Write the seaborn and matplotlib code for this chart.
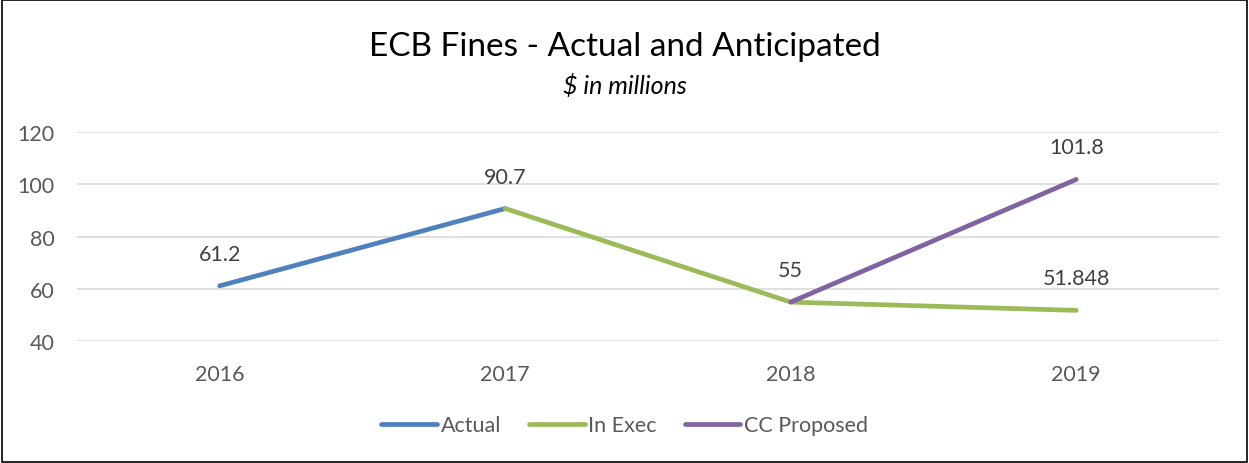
import matplotlib
matplotlib.use("Agg")
import matplotlib.pyplot as plt
import seaborn as sns
import pandas as pd
from matplotlib.patches import Rectangle

years = ["2016", "2017", "2018", "2019"]
actual_years = ["2016", "2017"]
actual_vals = [61.2, 90.7]
exec_years = ["2017", "2018", "2019"]
exec_vals = [90.7, 55, 51.848]
cc_years = ["2018", "2019"]
cc_vals = [55, 101.8]
series_names = ["Actual", "In Exec", "CC Proposed"]
colors = ["#4F81BD", "#9BBB59", "#8064A2"]

rows = []
for name, ys, vs in zip(series_names, [actual_years, exec_years, cc_years],
                        [actual_vals, exec_vals, cc_vals]):
    for y, v in zip(ys, vs):
        rows.append({"series": name, "year": y, "pos": years.index(y), "value": v})
df = pd.DataFrame(rows)

sns.set_theme(style="white")
plt.rcParams["font.family"] = ["Lato", "DejaVu Sans"]

fig = plt.figure(figsize=(12.49, 4.64), dpi=100)
ax = fig.add_axes([0.0616, 0.262, 0.976 - 0.0616, 0.714 - 0.262])

sns.lineplot(data=df, x="pos", y="value", hue="series", hue_order=series_names,
             palette=colors, linewidth=3.4, ax=ax, solid_capstyle="round",
             sort=False, estimator=None)

ax.set_xlim(-0.5, 3.5)
ax.set_ylim(40, 120)
ax.set_yticks([40, 60, 80, 100, 120])
ax.set_xticks(range(len(years)))
ax.set_xticklabels(years)
ax.set_xlabel("")
ax.set_ylabel("")
ax.grid(axis="y", color="#D9D9D9", linewidth=1.2)
ax.set_axisbelow(True)
for s in ax.spines.values():
    s.set_visible(False)
ax.tick_params(axis="y", length=0, pad=16, labelsize=15.5, labelcolor="#595959")
ax.tick_params(axis="x", length=0, pad=16, labelsize=15.5, labelcolor="#595959")

# data labels (unique points)
seen = set()
for _, r in df.iterrows():
    key = (r["pos"], r["value"])
    if key in seen:
        continue
    seen.add(key)
    txt = f"{r['value']:g}"
    ax.annotate(txt, (r["pos"], r["value"]), xytext=(0, 23), textcoords="offset points",
                ha="center", va="center", fontsize=15.5, color="#404040")

fig.text(0.5, 0.898, "ECB Fines - Actual and Anticipated", ha="center", va="center",
         fontsize=24, color="#000000")
fig.text(0.5, 0.815, "$ in millions", ha="center", va="center", fontsize=18,
         style="italic", color="#000000")

leg = ax.legend(loc="center", bbox_to_anchor=(0.5, 0.0815), bbox_transform=fig.transFigure,
                ncol=3, frameon=False, fontsize=15.5, handlelength=2.6, handletextpad=0.15,
                columnspacing=1.3)
for t in leg.get_texts():
    t.set_color("#595959")
for h in leg.get_lines():
    h.set_linewidth(3.4)
    h.set_solid_capstyle("round")

fig.patches.append(Rectangle((0.0015, 0.002), 0.997, 0.996, transform=fig.transFigure,
                             fill=False, edgecolor="#000000", linewidth=1.2))

fig.savefig("out.png", dpi=100)
